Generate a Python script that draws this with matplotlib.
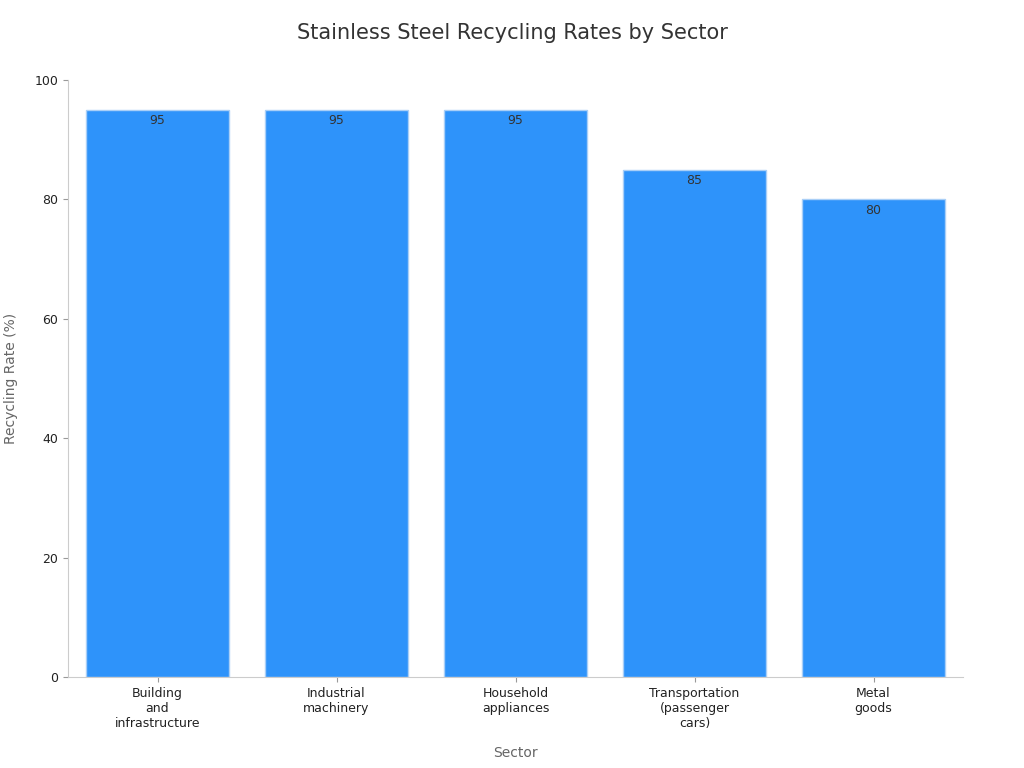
import matplotlib
matplotlib.use("Agg")
import matplotlib.pyplot as plt

categories = ["Building\nand\ninfrastructure", "Industrial\nmachinery", "Household\nappliances",
              "Transportation\n(passenger\ncars)", "Metal\ngoods"]
values = [95, 95, 95, 85, 80]
yticks = [0, 20, 40, 60, 80, 100]

fig = plt.figure(figsize=(10.24, 7.68), dpi=100)
ax = fig.add_axes([68/1024, 1-677/768, 895/1024, 597/768])
x = range(len(categories))
bars = ax.bar(x, values, width=0.8, color="#2E93FA", edgecolor="#A9CFF7", linewidth=1)
for xi, v in zip(x, values):
    ax.text(xi, v - 0.7, str(v), ha="center", va="top", fontsize=9, color="#333333")
ax.set_xlim(-0.5, 4.5)
ax.set_ylim(0, 100)
ax.set_yticks(yticks)
ax.set_xticks(list(x))
ax.set_xticklabels(categories, fontsize=9, color="#222222")
ax.tick_params(axis="y", labelsize=9, colors="#222222")
ax.tick_params(axis="both", color="#999999")
for s in ["top", "right"]:
    ax.spines[s].set_visible(False)
for s in ["left", "bottom"]:
    ax.spines[s].set_color("#cccccc")
ax.set_xlabel("Sector", fontsize=10, color="#666666", labelpad=12)
ax.set_ylabel("Recycling Rate (%)", fontsize=10, color="#666666", labelpad=12)
fig.text(0.5, 1-33/768, "Stainless Steel Recycling Rates by Sector", ha="center", va="center",
         fontsize=15, color="#333333")
fig.savefig("out.png", dpi=100)
